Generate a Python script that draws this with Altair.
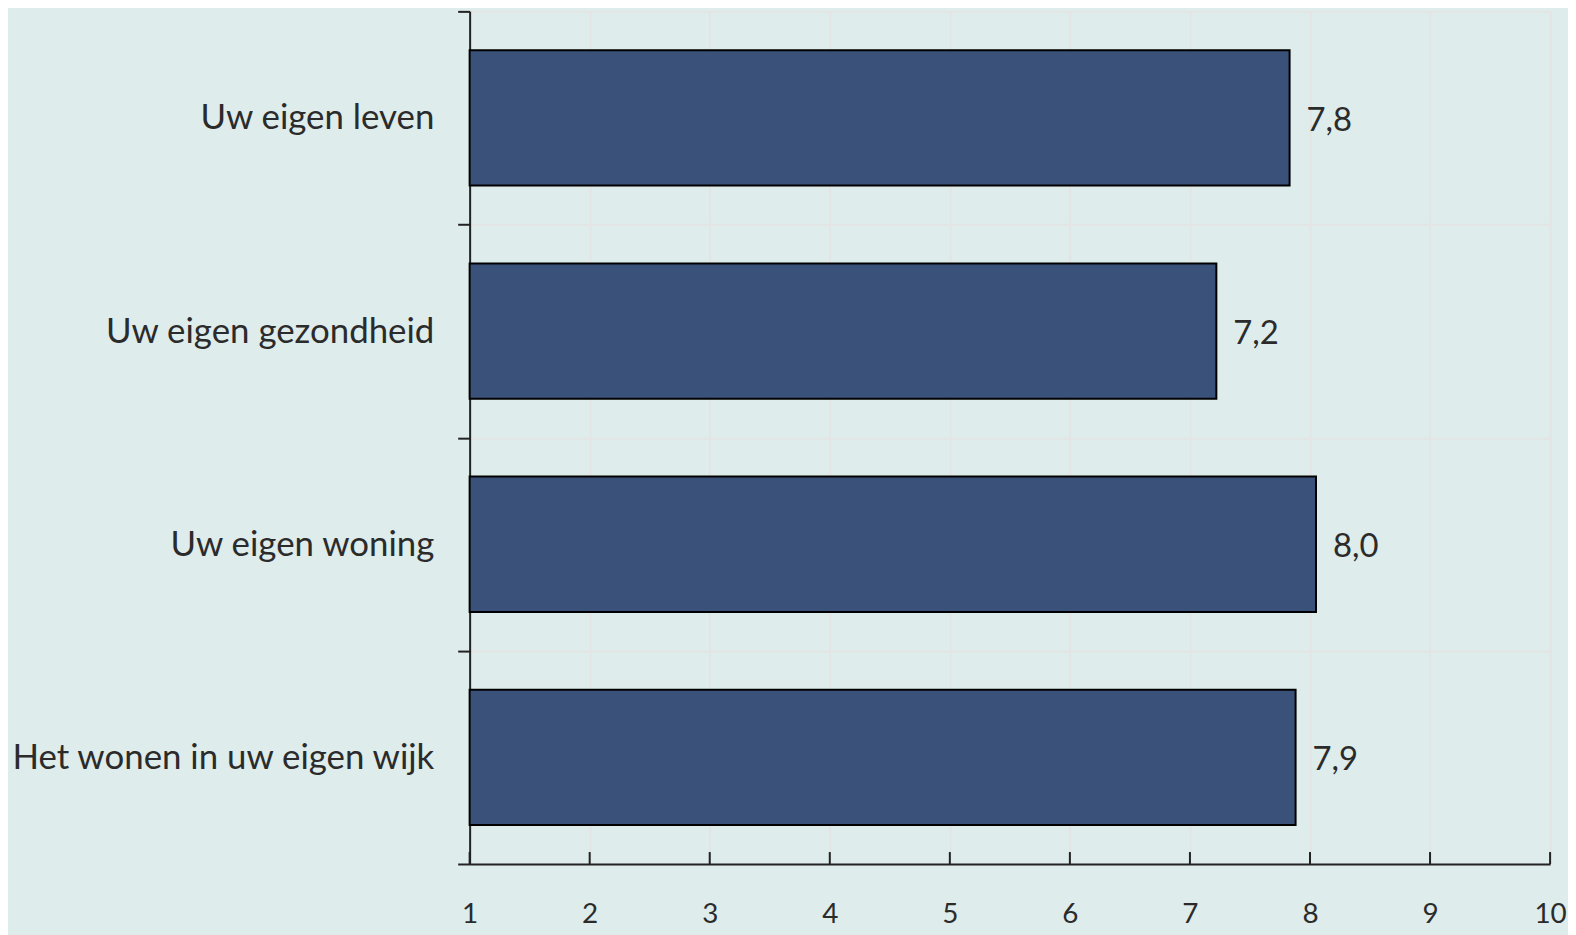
import altair as alt
import pandas as pd

categories = ["Uw eigen leven", "Uw eigen gezondheid", "Uw eigen woning", "Het wonen in uw eigen wijk"]
values = [7.83, 7.22, 8.05, 7.88]
labels = ["7,8", "7,2", "8,0", "7,9"]
x_ticks = [1, 2, 3, 4, 5, 6, 7, 8, 9, 10]

df = pd.DataFrame({"cat": categories, "value": values, "label": labels, "start": [1] * 4})
ticks_df = pd.DataFrame({"t": x_ticks})

FONT = "Lato"
TXT = "#2b2b2b"
W, H = 1086, 857

xscale = alt.Scale(domain=[1, 10], nice=False, zero=False)
yscale = alt.Scale(domain=categories, paddingInner=0, paddingOuter=0)

bars = alt.Chart(df).mark_bar(color="#3a5279", stroke="black", strokeWidth=2, size=136).encode(
    x=alt.X("start:Q", scale=xscale,
            axis=alt.Axis(values=x_ticks, format="d", title=None, tickSize=0, labelPadding=37,
                          labelFlush=False, labelFontSize=28, labelFont=FONT, labelColor=TXT,
                          domainColor="#222", domainWidth=2, grid=True,
                          gridColor="#e4e4e4", gridWidth=2)),
    x2="value:Q",
    y=alt.Y("cat:N", scale=yscale, sort=categories,
            axis=alt.Axis(title=None, tickBand="extent", tickSize=12, tickColor="#222",
                          tickWidth=2, labelPadding=24, labelFontSize=35, labelFont=FONT,
                          labelColor=TXT, domainColor="#222", domainWidth=2, grid=True,
                          gridColor="#e4e4e4", gridWidth=2, labelLimit=600)),
)

text = alt.Chart(df).mark_text(align="left", baseline="middle", dx=17, dy=3, fontSize=33,
                               font=FONT, color=TXT).encode(
    x=alt.X("value:Q", scale=xscale),
    y=alt.Y("cat:N", scale=yscale, sort=categories),
    text="label:N",
)

xticks = alt.Chart(ticks_df).mark_rule(color="#222", strokeWidth=2).encode(
    x=alt.X("t:Q", scale=xscale),
    y=alt.value(H - 12),
    y2=alt.value(H),
)

chart = alt.layer(bars, text, xticks).properties(
    width=W, height=H,
    autosize=alt.AutoSizeParams(type="none"),
    padding={"left": 464, "top": 1, "right": 18, "bottom": 70},
    background="#deecec",
).configure_view(stroke=None)

chart.save("out.html", embed_options={"renderer": "svg", "actions": False})
